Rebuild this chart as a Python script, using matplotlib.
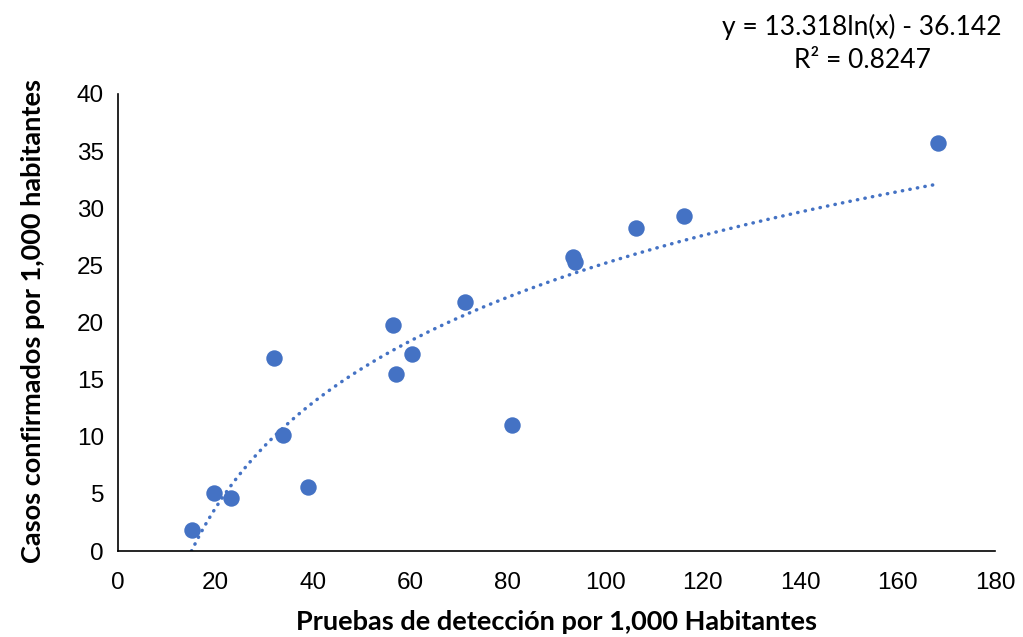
import numpy as np
import matplotlib
matplotlib.use("Agg")
import matplotlib.pyplot as plt

# Data
pruebas = [15.1, 19.8, 23.2, 32.0, 33.8, 38.9, 56.4, 57.0, 60.4, 71.2, 80.9, 93.3, 93.7, 106.3, 116.2, 168.2]
casos = [1.8, 5.1, 4.6, 16.9, 10.15, 5.6, 19.8, 15.5, 17.2, 21.8, 11.05, 25.7, 25.3, 28.3, 29.3, 35.7]

coef_a = 13.318
coef_b = -36.142
r2 = 0.8247

x_ticks = [0, 20, 40, 60, 80, 100, 120, 140, 160, 180]
y_ticks = [0, 5, 10, 15, 20, 25, 30, 35, 40]

blue = "#4472C4"

fig = plt.figure(figsize=(10.23, 6.37), dpi=100)
ax = fig.add_axes([118/1023, 1-551/637, (995-118)/1023, (551-94)/637])

ax.scatter(pruebas, casos, s=140, color=blue, zorder=3, linewidths=0)

x0 = np.exp(-coef_b/coef_a)
xt = np.linspace(x0, max(pruebas), 300)
yt = coef_a*np.log(xt) + coef_b
ax.plot(xt, yt, color=blue, lw=2.5, linestyle=(0, (0.1, 2.1)), dash_capstyle="round", zorder=2)

ax.set_xlim(0, 180)
ax.set_ylim(0, 40)
ax.set_xticks(x_ticks)
ax.set_yticks(y_ticks)
ax.tick_params(length=0, labelsize=17.5)
for lab in ax.get_xticklabels() + ax.get_yticklabels():
    lab.set_fontfamily("Liberation Sans")
ax.tick_params(axis="x", pad=15)
ax.tick_params(axis="y", pad=10)

for s in ["top", "right"]:
    ax.spines[s].set_visible(False)
for s in ["left", "bottom"]:
    ax.spines[s].set_color("#000000")
    ax.spines[s].set_linewidth(1.2)

fig.text(556/1023, 1-622/637, "Pruebas de detección por 1,000 Habitantes", fontsize=19.5,
         fontweight="bold", family="Lato", ha="center", va="center")
fig.text(33/1023, 1-321/637, "Casos confirmados por 1,000 habitantes", fontsize=19.5,
         fontweight="bold", family="Lato", rotation=90, ha="center", va="center")

fig.text(862/1023, 1-27/637, f"y = {coef_a}ln(x) - {abs(coef_b)}",
         fontsize=19, family="Lato", ha="center", va="center")
fig.text(862/1023, 1-60/637, f"R² = {r2}",
         fontsize=19, family="Lato", ha="center", va="center")

fig.savefig("out.png", dpi=100)
